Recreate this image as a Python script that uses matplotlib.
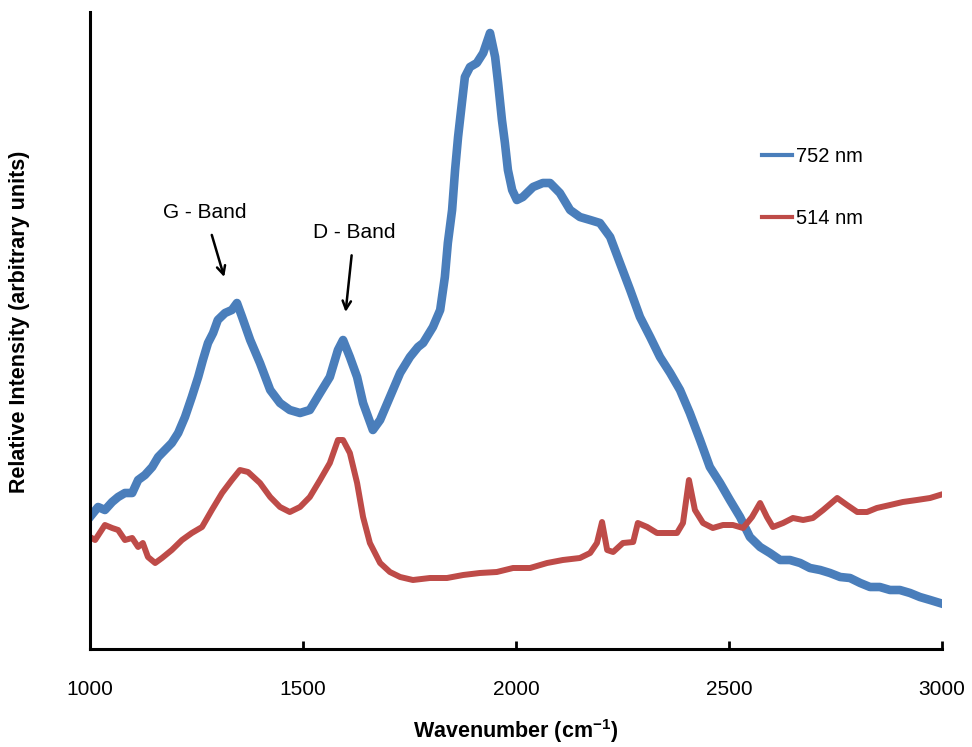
import matplotlib
matplotlib.use("Agg")
import matplotlib.pyplot as plt

plt.rcParams['font.family'] = ['Liberation Sans', 'DejaVu Sans']

# Data (arbitrary intensity units)
wn_752 = [1000, 1019, 1035, 1052, 1066, 1082, 1099, 1113, 1129, 1146, 1160, 1176, 1192, 1207,
          1223, 1239, 1254, 1265, 1277, 1289, 1300, 1317, 1333, 1345, 1357, 1376, 1399, 1423,
          1446, 1469, 1493, 1516, 1540, 1563, 1582, 1594, 1610, 1627, 1641, 1664, 1681, 1704,
          1728, 1751, 1770, 1782, 1805, 1822, 1833, 1840, 1850, 1857, 1864, 1873, 1880, 1892,
          1908, 1923, 1939, 1951, 1958, 1967, 1974, 1981, 1991, 2002, 2016, 2040, 2063, 2080,
          2103, 2127, 2150, 2174, 2197, 2221, 2244, 2268, 2291, 2315, 2338, 2362, 2385, 2408,
          2432, 2455, 2479, 2502, 2526, 2549, 2573, 2596, 2620, 2643, 2667, 2690, 2714, 2737,
          2761, 2784, 2808, 2831, 2854, 2878, 2901, 2925, 2948, 2972, 2995]
int_752 = [132, 142, 139, 147, 152, 156, 156, 169, 174, 182, 192, 199, 206, 216,
           232, 252, 272, 289, 306, 316, 329, 336, 339, 346, 332, 309, 286, 259,
           246, 239, 236, 239, 256, 272, 299, 309, 292, 272, 246, 219, 229, 252,
           276, 292, 302, 306, 322, 339, 372, 406, 439, 479, 512, 546, 572, 582,
           586, 596, 616, 592, 566, 529, 506, 479, 459, 449, 452, 462, 466, 466,
           456, 439, 432, 429, 426, 412, 386, 359, 332, 312, 292, 276, 259, 236,
           209, 182, 166, 149, 132, 112, 102, 96, 89, 89, 86, 81, 79, 76,
           72, 71, 66, 62, 62, 59, 59, 56, 52, 49, 46]

wn_514 = [1000, 1012, 1035, 1052, 1066, 1082, 1099, 1113, 1124, 1136, 1153, 1169, 1192, 1216,
          1239, 1263, 1286, 1310, 1333, 1352, 1371, 1399, 1423, 1446, 1469, 1493, 1516, 1540,
          1563, 1582, 1594, 1610, 1627, 1641, 1657, 1681, 1704, 1728, 1758, 1798, 1838, 1876,
          1915, 1955, 1993, 2033, 2073, 2110, 2150, 2174, 2190, 2202, 2214, 2228, 2251, 2275,
          2286, 2308, 2331, 2354, 2378, 2392, 2406, 2420, 2439, 2462, 2486, 2509, 2533, 2554,
          2573, 2589, 2603, 2627, 2650, 2674, 2697, 2721, 2754, 2777, 2801, 2824, 2847, 2878,
          2908, 2941, 2972, 2995]
int_514 = [112, 109, 124, 121, 119, 109, 111, 102, 106, 92, 86, 91, 99, 109,
           116, 122, 139, 156, 169, 179, 177, 166, 152, 142, 137, 142, 152, 169,
           186, 209, 209, 196, 166, 132, 106, 86, 77, 72, 69, 71, 71, 74,
           76, 77, 81, 81, 86, 89, 91, 96, 106, 127, 99, 97, 106, 107,
           126, 122, 116, 116, 116, 126, 169, 139, 126, 121, 124, 124, 121, 132,
           146, 132, 122, 126, 131, 129, 131, 139, 151, 144, 137, 137, 141, 144,
           147, 149, 151, 154]

labels = ['752 nm', '514 nm']
colors = ['#4A7EBB', '#BE4B48']

fig = plt.figure(figsize=(9.72, 7.47), dpi=100)
ax = fig.add_axes([90/972, 1-649/747, (942-90)/972, (649-12)/747])

ax.plot(wn_752, int_752, color=colors[0], lw=6.2, label=labels[0], solid_joinstyle='round')
ax.plot(wn_514, int_514, color=colors[1], lw=4.3, label=labels[1], solid_joinstyle='round')

ax.set_xlim(1000, 3000)
ax.set_ylim(0, 637)
ax.set_xticks([1000, 1500, 2000, 2500, 3000])
ax.set_yticks([])
for s in ['top', 'right']:
    ax.spines[s].set_visible(False)
for s in ['left', 'bottom']:
    ax.spines[s].set_linewidth(2.2)
    ax.spines[s].set_color('black')
ax.tick_params(axis='x', direction='in', length=6, width=2, labelsize=15, pad=22)

ax.set_xlabel('Wavenumber (cm$^{\\mathregular{-1}}$)', fontsize=15.5, fontweight='bold')
ax.xaxis.set_label_coords(0.5, -(731 - 649) / 637, transform=ax.transAxes)
ax.xaxis.label.set_va('center')
ax.set_ylabel('Relative Intensity (arbitrary units)', fontsize=15.5, fontweight='bold')
ax.yaxis.set_label_coords((20 - 90) / 852, (649 - 322) / 637)
ax.yaxis.label.set_va('center')

ax.annotate('G - Band', xy=(1315, 372), xytext=(1270, 437), fontsize=15, ha='center', va='center',
            arrowprops=dict(arrowstyle='->', color='black', lw=1.8, shrinkA=8, shrinkB=0))
ax.annotate('D - Band', xy=(1600, 337), xytext=(1620, 417), fontsize=15, ha='center', va='center',
            arrowprops=dict(arrowstyle='->', color='black', lw=1.8, shrinkA=8, shrinkB=0))

leg = ax.legend(loc='upper left', bbox_to_anchor=((762 - 90) / 852, (649 - 147) / 637),
                frameon=False, fontsize=14.5, handlelength=1.5, handletextpad=0.2,
                labelspacing=2.15, borderaxespad=0, borderpad=0)
for line in leg.get_lines():
    line.set_linewidth(3)

fig.savefig('out.png', dpi=100)
